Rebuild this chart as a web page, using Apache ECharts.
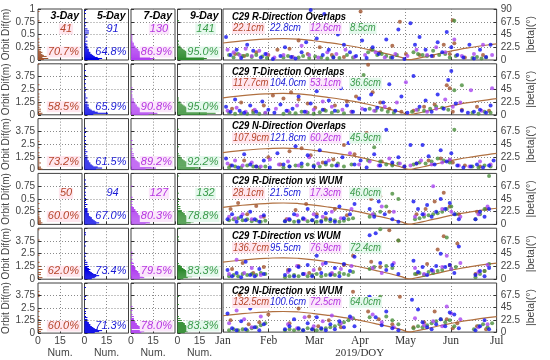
<!DOCTYPE html>
<html><head><meta charset="utf-8">
<script src="https://cdn.jsdelivr.net/npm/echarts@6/dist/echarts.min.js"></script>
<style>html,body{margin:0;padding:0;background:#fff}#c{width:550px;height:360px}</style>
</head><body><div id="c"></div>
<script>
// ---------------- DATA ----------------
const colTitles = ['3-Day', '5-Day', '7-Day', '9-Day'];
const monthLabels = ['Jan', 'Feb', 'Mar', 'Apr', 'May', 'Jun', 'Jul'];
const rowTitles = ['C29 R-Direction Overlaps', 'C29 T-Direction Overlaps', 'C29 N-Direction Overlaps',
  'C29 R-Direction vs WUM', 'C29 T-Direction vs WUM', 'C29 N-Direction vs WUM'];
const rmsLabels = [
  ['22.1cm', '22.8cm', '12.6cm', '8.5cm'],
  ['117.7cm', '104.0cm', '53.1cm', '36.6cm'],
  ['107.9cm', '121.8cm', '60.2cm', '45.9cm'],
  ['28.1cm', '21.5cm', '17.3cm', '46.0cm'],
  ['136.7cm', '95.5cm', '76.9cm', '72.4cm'],
  ['132.5cm', '100.6cm', '72.5cm', '64.0cm']];
const pctLabels = [
  ['70.7%', '64.8%', '86.9%', '95.0%'],
  ['58.5%', '65.9%', '90.8%', '95.0%'],
  ['73.2%', '61.5%', '89.2%', '92.2%'],
  ['60.0%', '67.0%', '80.3%', '78.8%'],
  ['62.0%', '73.4%', '79.5%', '83.3%'],
  ['60.0%', '71.3%', '78.0%', '83.3%']];
const countLabels = [['41', '91', '130', '141'], null, null, ['50', '94', '127', '132'], null, null];
const rowMax = [1, 5, 5, 1, 5, 5];
const rowTick = [0.25, 1.25, 1.25, 0.25, 1.25, 1.25];
const binWidth = [0.02, 0.1, 0.1, 0.02, 0.1, 0.1];

// histograms: [bin start (m), count]
const h1_3 = [[0,4],[0.02,7],[0.04,3],[0.06,6],[0.08,4],[0.1,3],[0.12,2],[0.14,3],[0.16,2],[0.18,1],[0.2,2],[0.24,1],[0.28,1],[0.34,1],[0.4,1],[0.76,1],[0.94,1]];
const h1_5 = [[0,10],[0.02,12],[0.04,9],[0.06,7],[0.08,6],[0.1,5],[0.12,4],[0.14,4],[0.16,3],[0.18,3],[0.2,3],[0.22,2],[0.24,2],[0.26,2],[0.28,1],[0.3,2],[0.32,1],[0.36,2],[0.4,1],[0.44,2],[0.48,1],[0.52,3],[0.56,3],[0.6,2],[0.66,1],[0.72,1],[0.8,1],[0.9,1],[0.96,1]];
const h1_7 = [[0,14],[0.02,16],[0.04,13],[0.06,12],[0.08,11],[0.1,10],[0.12,8],[0.14,7],[0.16,6],[0.18,5],[0.2,5],[0.22,4],[0.24,3],[0.26,3],[0.28,2],[0.3,2],[0.32,2],[0.34,1],[0.36,1],[0.4,1],[0.44,1],[0.48,1]];
const h1_9 = [[0,18],[0.02,20],[0.04,18],[0.06,16],[0.08,14],[0.1,12],[0.12,10],[0.14,8],[0.16,6],[0.18,5],[0.2,4],[0.22,3],[0.24,2],[0.26,2],[0.3,1],[0.36,1],[0.76,1]];
const h2_3 = [[0,2],[0.1,3],[0.3,2],[0.5,2],[0.7,1],[0.9,2],[1.1,1],[1.4,1],[1.7,1],[2.0,1],[2.4,1],[2.9,1],[4.9,1]];
const h2_5 = [[0,6],[0.1,16],[0.2,9],[0.3,7],[0.4,5],[0.5,4],[0.6,3],[0.7,3],[0.8,2],[0.9,3],[1.0,2],[1.2,2],[1.4,1],[1.6,2],[1.8,1],[2.0,1],[2.3,1],[2.6,1],[3.0,1],[3.4,1],[3.8,1],[4.3,1]];
const h2_7 = [[0,12],[0.1,18],[0.2,15],[0.3,12],[0.4,9],[0.5,8],[0.6,6],[0.7,5],[0.8,4],[0.9,4],[1.0,3],[1.1,3],[1.2,2],[1.3,2],[1.5,2],[1.7,1],[1.9,1],[2.2,1],[2.6,1]];
const h2_9 = [[0,20],[0.1,26],[0.2,20],[0.3,15],[0.4,12],[0.5,10],[0.6,8],[0.7,6],[0.8,5],[0.9,4],[1.0,3],[1.1,2],[1.2,2],[1.4,1],[1.6,1]];
const h3_3 = [[0,3],[0.1,2],[0.2,2],[0.4,1],[0.6,2],[0.8,1],[1.0,1],[1.3,1],[1.6,1],[2.1,1],[2.7,1]];
const h3_5 = [[0,8],[0.1,12],[0.2,9],[0.3,6],[0.4,5],[0.5,4],[0.6,4],[0.7,3],[0.8,3],[0.9,2],[1.0,2],[1.1,2],[1.3,2],[1.5,1],[1.7,2],[1.9,1],[2.2,1],[2.5,1],[2.8,1],[3.2,1],[3.6,1],[4.0,1]];
const h3_7 = [[0,10],[0.1,17],[0.2,14],[0.3,11],[0.4,9],[0.5,7],[0.6,6],[0.7,5],[0.8,4],[0.9,3],[1.0,3],[1.1,2],[1.3,2],[1.5,2],[1.7,1],[2.0,1],[2.4,1],[2.8,1]];
const h3_9 = [[0,12],[0.1,16],[0.2,14],[0.3,22],[0.4,12],[0.5,10],[0.6,8],[0.7,7],[0.8,5],[0.9,4],[1.0,3],[1.1,3],[1.3,2],[1.5,1],[2.2,1],[3.9,1]];
const h4_3 = [[0,2],[0.02,3],[0.04,2],[0.06,2],[0.08,1],[0.1,2],[0.12,1],[0.14,1],[0.18,1],[0.22,1],[0.3,1],[0.4,1]];
const h4_5 = [[0,8],[0.02,10],[0.04,8],[0.06,7],[0.08,6],[0.1,5],[0.12,5],[0.14,4],[0.16,3],[0.18,3],[0.2,3],[0.22,2],[0.24,2],[0.26,2],[0.28,2],[0.3,2],[0.34,1],[0.38,2],[0.42,1],[0.46,1],[0.5,1],[0.56,1],[0.62,1],[0.7,1],[0.78,1],[0.86,1]];
const h4_7 = [[0,10],[0.02,13],[0.04,12],[0.06,11],[0.08,10],[0.1,9],[0.12,8],[0.14,7],[0.16,6],[0.18,5],[0.2,5],[0.22,4],[0.24,4],[0.26,3],[0.28,3],[0.3,2],[0.32,2],[0.34,1],[0.38,1],[0.44,1],[0.52,1],[0.74,1]];
const h4_9 = [[0,6],[0.02,9],[0.04,11],[0.06,12],[0.08,11],[0.1,9],[0.12,8],[0.14,7],[0.16,6],[0.18,5],[0.2,5],[0.22,4],[0.24,3],[0.26,3],[0.3,2],[0.34,2],[0.38,1],[0.44,1],[0.5,1],[0.6,1],[0.94,1]];
const h5_3 = [[0.1,3],[0.4,2],[0.6,2],[0.9,3],[1.2,2],[1.6,1],[2.3,1],[3.8,1],[4.8,1]];
const h5_5 = [[0,5],[0.1,7],[0.2,8],[0.3,10],[0.4,8],[0.5,6],[0.6,5],[0.7,4],[0.8,3],[0.9,4],[1.0,3],[1.1,2],[1.2,3],[1.4,2],[1.6,2],[1.8,1],[2.2,1],[2.5,1],[3.2,1],[3.6,1],[4.3,1],[4.5,1]];
const h5_7 = [[0,6],[0.1,9],[0.2,8],[0.3,7],[0.4,6],[0.5,6],[0.6,5],[0.7,5],[0.8,4],[0.9,3],[1.0,3],[1.1,3],[1.2,2],[1.3,2],[1.5,2],[1.6,1],[1.9,1],[2.3,1],[2.6,1]];
const h5_9 = [[0,4],[0.1,7],[0.2,10],[0.3,14],[0.4,16],[0.5,15],[0.6,11],[0.7,8],[0.8,6],[0.9,5],[1.0,4],[1.1,3],[1.2,3],[1.3,2],[1.5,1],[3.8,1],[4.1,1],[4.9,1]];
const h6_3 = [[0.1,2],[0.3,3],[0.5,2],[0.8,2],[1.0,2],[1.3,1],[1.6,1],[2.1,1],[3.6,1],[3.8,1],[4.1,1]];
const h6_5 = [[0,7],[0.1,10],[0.2,12],[0.3,9],[0.4,7],[0.5,6],[0.6,5],[0.7,4],[0.8,4],[0.9,3],[1.0,3],[1.1,2],[1.3,2],[1.5,2],[1.6,1],[1.9,1],[2.1,1],[2.4,1],[3.3,1],[3.6,1],[4.5,1]];
const h6_7 = [[0,7],[0.1,9],[0.2,8],[0.4,7],[0.5,6],[0.6,6],[0.7,5],[0.8,4],[0.9,4],[1.0,3],[1.1,3],[1.3,2],[1.4,2],[1.6,2],[1.8,1],[2.2,1],[2.6,1]];
const h6_9 = [[0,5],[0.1,7],[0.2,9],[0.3,12],[0.4,10],[0.5,8],[0.6,7],[0.7,6],[0.8,5],[0.9,5],[1.0,4],[1.2,3],[1.4,2],[1.6,1],[2.8,1],[3.6,1]];

// time series: [day of year (0 = Jan 1), orbit difference (m)]
const p1_3 = [[8,0.12],[14,0.08],[22,0.15],[30,0.1],[36,0.2],[44,0.22],[50,0.38],[56,0.12],[64,0.25],[72,0.1],[80,0.06],[91,0.95],[98,0.2],[104,0.15],[112,0.28],[117,0.75],[121,0.12],[130,0.1],[139,0.08],[146,0.3],[150,0.12],[152,0.78],[153,0.33],[160,0.05],[172,0.1]];
const p1_5 = [[2,0.45],[5,0.1],[9,0.2],[12,0.04],[16,0.3],[20,0.18],[25,0.05],[28,0.12],[33,0.02],[38,0.08],[41,0.25],[45,0.06],[48,0.03],[52,0.15],[55,0.35],[58,0.98],[62,0.42],[66,0.1],[67,0.9],[70,0.2],[73,0.05],[76,0.5],[80,0.3],[84,0.15],[88,0.08],[92,0.38],[95,0.04],[99,0.25],[103,0.12],[108,0.4],[112,0.05],[116,0.6],[120,0.02],[124,0.72],[127,0.3],[130,0.45],[134,0.2],[138,0.08],[142,0.35],[145,0.15],[148,0.55],[151,0.25],[155,0.1],[159,0.05],[163,0.3],[166,0.03],[170,0.2],[174,0.06],[177,0.3]];
const p1_7 = [[3,0.2],[7,0.15],[11,0.1],[15,0.22],[19,0.08],[24,0.18],[29,0.12],[34,0.05],[40,0.1],[46,0.06],[52,0.28],[57,0.1],[63,0.05],[69,0.15],[75,0.12],[81,0.2],[87,0.06],[94,0.1],[101,0.15],[107,0.05],[114,0.12],[122,0.08],[128,0.2],[135,0.1],[141,0.25],[147,0.15],[153,0.4],[158,0.08],[166,0.12],[172,0.3],[178,0.1]];
const p1_9 = [[4,0.1],[7,0.05],[10,0.12],[13,0.08],[16,0.1],[19,0.06],[22,0.1],[26,0.07],[29,0.04],[40,0.05],[43,0.08],[46,0.06],[50,0.05],[53,0.08],[57,0.04],[61,0.07],[65,0.05],[69,0.03],[73,0.06],[77,0.04],[82,0.1],[86,0.05],[96,0.15],[99,0.2],[102,0.1],[105,0.12],[108,0.08],[111,0.05],[115,0.1],[126,0.15],[129,0.12],[132,0.1],[135,0.08],[139,0.18],[143,0.1],[147,0.12],[150,0.05],[153,0.77],[154,0.08],[165,0.04],[168,0.06],[171,0.03],[174,0.05]];
const p2_3 = [[6,0.6],[12,1.2],[20,0.4],[27,0.9],[33,1.9],[40,1.6],[45,2.2],[50,1.5],[56,1.1],[61,0.7],[67,0.5],[74,0.9],[82,1.3],[88,1.8],[96,4.9],[99,2.2],[104,1.2],[110,0.6],[118,0.3],[126,0.4],[133,0.8],[140,1.0],[148,2.9],[150,2.6],[152,0.3],[158,0.5],[168,0.8],[176,0.4]];
const p2_5 = [[2,0.8],[5,0.3],[8,1.5],[11,0.4],[14,0.2],[18,0.9],[22,0.3],[26,1.3],[30,0.5],[34,0.2],[38,1.0],[42,0.4],[46,0.6],[50,1.8],[54,0.3],[58,1.1],[62,2.3],[66,0.5],[70,1.4],[74,0.4],[78,2.6],[82,0.9],[86,0.3],[90,1.6],[94,0.5],[98,2.0],[102,0.7],[106,1.2],[110,3.0],[114,0.4],[118,1.8],[122,0.2],[126,3.8],[130,0.8],[134,1.4],[138,0.3],[142,2.0],[146,0.6],[149,3.4],[151,4.3],[154,1.1],[158,0.4],[162,0.2],[166,0.3],[170,0.5],[174,0.2],[177,0.9]];
const p2_7 = [[3,0.4],[9,0.7],[15,0.3],[21,0.5],[28,0.2],[35,0.6],[43,0.4],[49,0.9],[55,0.3],[60,0.5],[66,1.3],[72,0.8],[79,0.5],[85,0.3],[92,0.6],[100,0.4],[107,0.8],[115,1.2],[121,3.2],[128,0.5],[135,0.3],[141,0.6],[147,1.5],[152,0.8],[157,1.2],[164,2.4],[171,0.4],[178,2.6]];
const p2_9 = [[4,0.2],[8,0.1],[12,0.15],[16,0.1],[20,0.2],[24,0.1],[28,0.15],[40,0.1],[44,0.2],[48,0.15],[52,0.3],[56,0.2],[60,0.1],[64,0.25],[68,0.4],[72,0.2],[76,0.35],[80,0.15],[85,0.3],[93,3.9],[97,0.6],[101,0.4],[105,0.5],[109,0.3],[113,0.2],[125,0.3],[129,0.5],[133,0.4],[137,0.6],[141,0.8],[145,0.7],[149,0.5],[153,2.4],[158,2.9],[165,0.2],[169,0.1],[173,0.3],[177,0.2]];
const p3_3 = [[5,0.4],[14,0.9],[22,0.3],[30,1.2],[38,0.5],[44,1.8],[52,2.1],[58,1.4],[66,0.7],[73,1.0],[80,2.4],[87,1.5],[95,3.6],[98,3.3],[105,0.8],[112,0.5],[120,0.3],[128,0.6],[136,0.9],[144,1.1],[150,0.9],[152,0.7],[160,0.4],[170,0.3]];
const p3_5 = [[2,1.1],[6,0.4],[10,0.2],[14,1.5],[18,0.5],[22,0.3],[27,0.9],[31,0.2],[36,1.6],[40,0.5],[44,0.3],[48,2.3],[52,0.6],[56,1.4],[60,0.3],[64,1.9],[68,0.7],[72,3.1],[75,0.4],[79,1.2],[83,2.6],[87,0.5],[91,0.9],[95,0.2],[100,1.5],[104,0.4],[108,3.9],[112,0.7],[116,1.2],[120,0.3],[124,2.4],[128,0.6],[132,2.4],[136,1.3],[140,0.5],[144,1.9],[148,0.8],[151,1.6],[155,0.4],[159,0.2],[164,0.3],[168,0.5],[172,0.2],[176,0.4],[179,0.9]];
const p3_7 = [[3,0.6],[8,0.9],[13,0.4],[19,0.7],[25,0.3],[31,1.0],[37,0.5],[43,0.8],[50,0.4],[57,1.2],[63,0.6],[70,0.9],[76,0.4],[84,1.6],[90,0.5],[97,0.8],[103,0.4],[110,1.1],[117,0.6],[124,0.4],[131,0.9],[138,0.5],[145,0.7],[150,1.0],[156,0.4],[163,0.3],[170,0.8],[177,0.5]];
const p3_9 = [[4,0.2],[8,0.3],[12,0.2],[16,0.4],[20,0.3],[24,0.2],[28,0.3],[40,0.2],[44,0.3],[48,0.4],[52,0.3],[56,0.5],[60,0.4],[64,0.3],[68,0.5],[72,0.4],[76,0.6],[80,0.3],[85,0.5],[96,0.9],[100,2.2],[104,0.8],[108,0.5],[112,0.4],[116,0.6],[126,0.5],[130,0.7],[134,0.6],[138,0.8],[142,1.1],[146,0.9],[150,0.7],[153,3.9],[165,0.3],[169,0.2],[173,0.4],[177,0.3]];
const p4_3 = [[5,0.3],[10,0.42],[16,0.2],[22,0.36],[27,0.15],[42,0.1],[48,0.28],[55,0.4],[62,0.2],[68,0.12],[74,0.3],[82,0.18],[98,0.5],[104,0.55],[110,0.25],[128,0.2],[134,0.3],[140,0.45],[146,0.62],[150,0.35],[156,0.2],[168,0.25],[174,0.3]];
const p4_5 = [[3,0.1],[6,0.2],[9,0.05],[12,0.15],[15,0.08],[18,0.25],[21,0.1],[24,0.05],[27,0.18],[41,0.06],[44,0.1],[47,0.2],[50,0.05],[53,0.12],[56,0.3],[59,0.08],[62,0.15],[65,0.05],[68,0.22],[71,0.1],[74,0.05],[77,0.35],[80,0.12],[84,0.2],[87,0.4],[97,0.3],[100,0.15],[103,0.45],[107,0.2],[112,0.1],[116,0.05],[126,0.45],[129,0.3],[132,0.2],[135,0.38],[138,0.15],[141,0.25],[144,0.5],[147,0.3],[150,0.42],[153,0.2],[156,0.1],[167,0.1],[170,0.25],[173,0.15],[176,0.3]];
const p4_7 = [[4,0.15],[8,0.12],[13,0.2],[19,0.1],[25,0.15],[43,0.1],[49,0.18],[54,0.1],[60,0.2],[66,0.15],[72,0.25],[78,0.12],[85,0.3],[99,0.2],[105,0.35],[113,0.25],[127,0.15],[133,0.2],[139,0.75],[145,0.3],[151,0.25],[157,0.15],[169,0.2],[175,0.35]];
const p4_9 = [[4,0.08],[7,0.1],[10,0.12],[13,0.08],[16,0.1],[19,0.06],[22,0.08],[25,0.05],[28,0.07],[41,0.06],[44,0.08],[47,0.05],[50,0.07],[53,0.1],[56,0.06],[59,0.08],[62,0.05],[65,0.07],[68,0.09],[71,0.06],[74,0.08],[77,0.05],[80,0.07],[83,0.1],[86,0.12],[97,0.15],[100,0.2],[104,0.25],[108,0.35],[112,0.6],[116,0.5],[127,0.1],[130,0.12],[133,0.15],[136,0.18],[139,0.2],[142,0.22],[145,0.25],[148,0.3],[151,0.35],[154,0.2],[167,0.1],[170,0.2],[173,0.3],[176,0.95]];
const p5_3 = [[6,1.0],[13,1.6],[20,0.6],[27,1.2],[43,0.9],[50,1.3],[57,0.6],[64,1.0],[72,0.5],[80,1.4],[86,2.3],[98,1.7],[104,1.2],[110,4.8],[116,3.8],[128,0.5],[135,1.5],[142,2.9],[146,4.2],[150,1.4],[155,3.5],[167,0.5],[173,0.8]];
const p5_5 = [[3,0.9],[6,0.3],[9,0.6],[12,0.2],[15,1.7],[18,0.4],[21,0.3],[24,1.0],[27,0.5],[41,0.4],[44,0.9],[47,0.3],[50,1.2],[53,0.5],[56,1.4],[59,0.3],[62,2.3],[65,0.6],[68,1.6],[71,0.4],[74,1.1],[77,0.3],[80,1.5],[84,0.8],[87,2.2],[97,4.3],[101,4.5],[104,1.6],[108,0.9],[112,1.4],[116,0.5],[126,1.8],[129,0.7],[132,1.2],[135,0.4],[138,0.9],[141,1.3],[144,2.5],[147,1.2],[150,1.4],[153,0.6],[156,3.2],[167,0.4],[170,0.8],[173,0.3],[176,1.1]];
const p5_7 = [[4,0.5],[9,1.9],[14,0.6],[19,1.1],[25,0.4],[43,0.7],[49,1.3],[54,0.5],[60,0.9],[66,1.5],[72,0.6],[78,1.0],[85,1.3],[99,1.1],[105,0.6],[113,1.6],[127,1.1],[133,0.5],[139,0.8],[145,1.2],[148,2.3],[151,1.0],[157,1.6],[169,0.7],[175,1.4]];
const p5_9 = [[4,0.3],[7,0.4],[10,0.3],[13,0.5],[16,0.4],[19,0.5],[22,0.4],[25,0.6],[28,0.5],[41,0.2],[44,0.3],[47,0.4],[50,0.3],[53,0.5],[56,0.3],[59,0.4],[62,0.5],[65,0.3],[68,0.4],[71,0.5],[74,0.4],[77,0.6],[80,0.5],[83,0.4],[86,0.7],[97,1.0],[100,1.2],[104,4.9],[108,1.3],[112,1.1],[116,3.8],[127,0.5],[130,0.6],[133,0.4],[136,0.7],[139,0.6],[142,0.8],[145,0.9],[148,4.1],[151,1.0],[154,1.2],[167,0.2],[170,0.5],[173,0.8],[176,1.5]];
const p6_3 = [[5,1.2],[11,3.8],[17,0.8],[24,1.0],[30,1.8],[44,0.9],[50,2.4],[57,1.6],[63,0.6],[70,1.2],[78,0.5],[86,4.1],[96,2.1],[103,1.3],[112,0.8],[117,3.6],[126,0.5],[133,1.0],[140,2.1],[148,1.3],[152,0.4],[155,0.9],[168,0.6],[174,0.3]];
const p6_5 = [[3,1.9],[6,0.4],[9,0.2],[12,1.1],[15,0.3],[18,2.4],[21,0.5],[24,0.2],[27,0.8],[41,0.3],[44,0.6],[47,1.3],[50,0.4],[53,0.2],[56,0.9],[59,0.3],[62,1.5],[65,0.4],[68,0.2],[71,0.8],[74,0.3],[77,1.1],[80,0.5],[84,1.6],[87,0.6],[97,3.6],[101,1.5],[105,0.7],[108,2.1],[112,0.4],[116,0.2],[125,3.3],[129,2.3],[132,1.0],[135,0.5],[138,0.3],[141,0.8],[144,1.3],[147,0.6],[150,2.0],[153,1.8],[156,0.4],[167,0.2],[170,0.6],[173,1.2],[176,0.3]];
const p6_7 = [[4,0.9],[9,2.2],[14,1.3],[19,0.5],[25,1.6],[43,0.8],[49,0.4],[54,1.5],[60,0.6],[66,1.1],[72,1.7],[78,0.9],[85,1.4],[99,1.8],[105,1.0],[113,0.5],[127,1.4],[133,0.7],[139,1.1],[145,0.6],[148,2.6],[151,1.9],[157,1.3],[169,0.5],[175,0.8]];
const p6_9 = [[4,0.2],[7,0.3],[10,0.2],[13,0.3],[16,0.2],[19,0.4],[22,0.5],[25,0.7],[28,0.9],[41,0.2],[44,0.3],[47,0.2],[50,0.3],[53,0.2],[56,0.4],[59,0.3],[62,0.2],[65,0.3],[68,0.4],[71,0.5],[74,0.6],[77,0.8],[80,1.0],[83,1.2],[86,1.4],[97,1.5],[100,2.8],[104,3.6],[108,1.6],[112,1.2],[116,0.8],[126,0.4],[129,0.6],[132,0.5],[135,0.7],[138,0.9],[141,1.1],[144,1.3],[147,1.0],[150,1.2],[153,0.6],[166,0.3],[169,0.6],[172,0.8],[175,0.5],[178,0.9]];

// |beta| angle (deg) vs day of year
const betaDays = [0, 10, 20, 30, 40, 50, 60, 70, 80, 90, 100, 110, 118, 123, 128, 135, 145, 155, 165, 175, 181];
const betaVals = [30, 33, 35.5, 37, 37.8, 36.8, 34, 30.5, 26.5, 22, 16, 10, 4.5, 0.5, 2.5, 6.5, 12.5, 18, 22.5, 26.5, 28.5];

const hist = [[h1_3,h1_5,h1_7,h1_9],[h2_3,h2_5,h2_7,h2_9],[h3_3,h3_5,h3_7,h3_9],[h4_3,h4_5,h4_7,h4_9],[h5_3,h5_5,h5_7,h5_9],[h6_3,h6_5,h6_7,h6_9]];
const pts = [[p1_3,p1_5,p1_7,p1_9],[p2_3,p2_5,p2_7,p2_9],[p3_3,p3_5,p3_7,p3_9],[p4_3,p4_5,p4_7,p4_9],[p5_3,p5_5,p5_7,p5_9],[p6_3,p6_5,p6_7,p6_9]];

// ---------------- STYLE / LAYOUT ----------------
const barColors = ['#a0522d', '#0000e6', '#b040f0', '#2e8b2e'];
const ptColors = ['#a0522d', '#1414f0', '#a845f0', '#4a8f3c'];
const txtColors = ['#b5452a', '#1a1ad6', '#b535e0', '#3a9a4a'];
const txtBg = ['#ffe6ee', null, '#fbe6fb', '#e4f8ec'];
const ROW_TOP0 = 9, ROW_STEP = 54.8, PH = 51;
const HIST_LEFT = [38, 84.5, 131, 177.5], HW = 44;
const TS_LEFT = 223, TS_W = 287;
const SANS = 'Liberation Sans';
const SERIF = 'Liberation Serif';
const splitStyle = { type: [1, 2], color: '#8a8a8a', width: 1 };
const labCol = '#444';

const option = { animation: false, textStyle: { fontFamily: SANS }, grid: [], xAxis: [], yAxis: [], series: [], graphic: [] };
const monthStep = 181 / 6;

for (let r = 0; r < 6; r++) {
  const top = ROW_TOP0 + r * ROW_STEP;
  for (let c = 0; c < 5; c++) {
    const g = r * 5 + c;
    const isTS = c === 4;
    option.grid.push({ left: isTS ? TS_LEFT : HIST_LEFT[c], top: top, width: isTS ? TS_W : HW, height: PH,
      show: true, borderColor: '#404040', borderWidth: 1, backgroundColor: '#fff' });
    if (!isTS) {
      option.xAxis.push({ gridIndex: g, type: 'value', min: 0, max: 30, interval: 15,
        axisLine: { show: false }, axisTick: { show: true, inside: true, length: 3, lineStyle: { color: '#333' } },
        axisLabel: { show: r === 5, showMaxLabel: false, fontSize: 10.5, color: labCol, margin: 3 },
        splitLine: { show: true, showMinLine: false, showMaxLine: false, lineStyle: splitStyle },
        name: r === 5 ? 'Num.' : '', nameLocation: 'middle', nameGap: 14, nameTextStyle: { fontSize: 10.5, color: labCol } });
      option.yAxis.push({ gridIndex: g, type: 'value', min: 0, max: rowMax[r], interval: rowTick[r],
        axisLine: { show: false }, axisTick: { show: true, inside: true, length: 3, lineStyle: { color: '#333' } },
        axisLabel: { show: c === 0, showMaxLabel: r === 0, fontSize: 10, color: labCol, margin: 3 },
        splitLine: { show: true, showMinLine: false, showMaxLine: false, lineStyle: splitStyle },
        name: c === 0 ? 'Orbit Dif(m)' : '', nameLocation: 'middle', nameGap: 23, nameRotate: 90,
        nameTextStyle: { fontSize: 10, color: labCol } });
      const col = barColors[c], bw = binWidth[r];
      option.series.push({ type: 'custom', xAxisIndex: g, yAxisIndex: g,
        data: hist[r][c].map(d => [d[0], d[1], bw]), encode: { x: 1, y: 0 },
        renderItem: function (params, api) {
          const v = api.value(0), n = api.value(1), w = api.value(2);
          const p0 = api.coord([0, v]), p1 = api.coord([n, v + w]);
          return { type: 'rect', shape: { x: p0[0], y: p1[1], width: p1[0] - p0[0], height: Math.max(1, p0[1] - p1[1]) },
            style: { fill: col } };
        } });
    } else {
      option.xAxis.push({ gridIndex: g, type: 'value', min: 0, max: 181, interval: monthStep,
        axisLine: { show: false }, axisTick: { show: true, inside: true, length: 3, lineStyle: { color: '#333' } },
        axisLabel: { show: r === 5, fontFamily: SERIF, fontSize: 11.5, color: '#333', margin: 3,
          formatter: v => monthLabels[Math.round(v / monthStep)] || '' },
        splitLine: { show: true, showMinLine: false, showMaxLine: false, lineStyle: splitStyle },
        name: r === 5 ? '2019/DOY' : '', nameLocation: 'middle', nameGap: 13,
        nameTextStyle: { fontFamily: SERIF, fontSize: 11, color: '#333' } });
      option.yAxis.push({ gridIndex: g, type: 'value', min: 0, max: rowMax[r], show: false });
    }
  }
}
for (let r = 0; r < 6; r++) {
  const g = r * 5 + 4;
  option.yAxis.push({ gridIndex: g, type: 'value', position: 'right', min: 0, max: 90, interval: 22.5,
    axisLine: { show: false }, axisTick: { show: true, inside: true, length: 3, lineStyle: { color: '#333' } },
    axisLabel: { show: true, showMaxLabel: r === 0, fontSize: 10, color: labCol, margin: 4 },
    splitLine: { show: true, showMinLine: false, showMaxLine: false, lineStyle: splitStyle },
    name: '|beta|(°)', nameLocation: 'middle', nameGap: 29, nameRotate: 90, nameTextStyle: { fontSize: 10.5, color: labCol } });
  option.series.push({ type: 'line', xAxisIndex: g, yAxisIndex: 30 + r, data: betaDays.map((d, i) => [d, betaVals[i]]),
    smooth: true, symbol: 'none', lineStyle: { color: '#b07040', width: 1.2 }, z: 1 });
  [0, 3, 2, 1].forEach(c => {
    option.series.push({ type: 'scatter', xAxisIndex: g, yAxisIndex: g, data: pts[r][c], symbolSize: 4,
      itemStyle: { color: ptColors[c] }, z: 2 });
  });
}

// texts
function txt(x, y, text, size, bold, fill, align, bg, sx) {
  const st = { text: text, fontSize: size, fontFamily: SANS, fontStyle: 'italic', fontWeight: bold ? 'bold' : 'normal',
    fill: fill, align: align || 'left', verticalAlign: 'middle' };
  if (bg) { st.backgroundColor = bg; st.padding = [0, 1]; }
  return { type: 'text', x: x, y: y, scaleX: sx || 1, z: 100, style: st };
}
const rmsX = [232, 270, 309, 349];
for (let r = 0; r < 6; r++) {
  const top = ROW_TOP0 + r * ROW_STEP;
  option.graphic.push(txt(TS_LEFT + 9, top + 8, rowTitles[r], 10.5, true, '#000', 'left', null, 0.9));
  for (let c = 0; c < 4; c++) {
    option.graphic.push(txt(rmsX[c], top + 19.5, rmsLabels[r][c], 10.5, false, txtColors[c], 'left', txtBg[c], 0.9));
    const L = HIST_LEFT[c];
    option.graphic.push(txt(L + HW - 2, top + PH - 8, pctLabels[r][c], 11, false, txtColors[c], 'right', txtBg[c]));
    if (countLabels[r]) option.graphic.push(txt(L + 28, top + 20, countLabels[r][c], 11, false, txtColors[c], 'center', txtBg[c]));
    if (r === 0) option.graphic.push(txt(L + HW - 3, top + 7, colTitles[c], 10.5, true, '#000', 'right'));
  }
}

const chart = echarts.init(document.getElementById('c'), null, { renderer: 'canvas' });
chart.setOption(option);
</script></body></html>
